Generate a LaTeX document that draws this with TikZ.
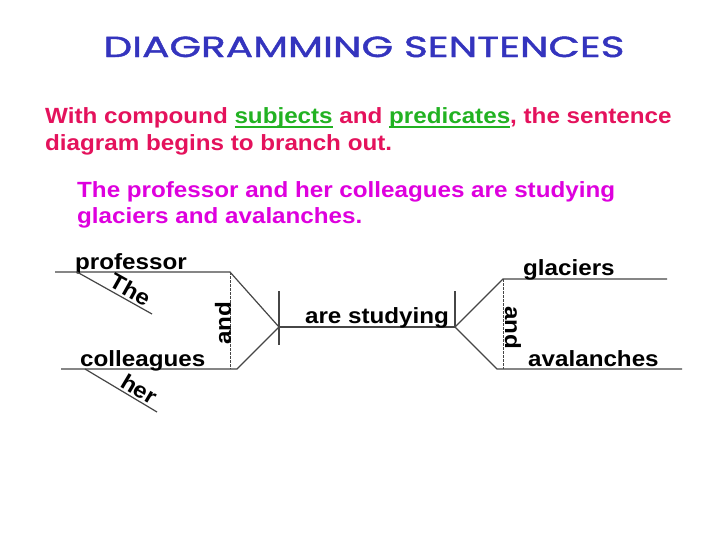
\documentclass[tikz,border=0pt]{standalone}
\usepackage{fontspec}
\setmainfont{Liberation Sans}[FakeStretch=1.1]
\newfontfamily\titlefont{Poppins}[FakeStretch=1.4,FakeBold=1.6]
\usetikzlibrary{positioning}
\definecolor{titleblue}{RGB}{52,52,190}
\definecolor{leadred}{RGB}{228,18,92}
\definecolor{keygreen}{RGB}{34,178,34}
\definecolor{examplepink}{RGB}{222,0,222}
\definecolor{linegray}{RGB}{70,70,70}
\newcommand{\keyword}[1]{\textcolor{keygreen}{\setbox0\hbox{#1}\rlap{\rule[-5pt]{\wd0}{1.6pt}}\box0}}

\begin{document}
\begin{tikzpicture}[x=1pt,y=-1pt,
	line/.style={linegray,line width=1.2pt},
	split/.style={linegray,line width=0.8pt,dashed,dash pattern=on 2.5pt off 1.5pt},
	word/.style={font=\fontsize{22}{24}\bfseries\selectfont,text=black,inner sep=0pt},
	slant/.style={word,sloped,above=2pt}]

	\useasboundingbox[fill=white] (0,0) rectangle (728,546);

	\node[font=\titlefont\fontsize{29}{32}\selectfont,text=titleblue,anchor=base] (title) at (364,57) {DIAGRAMMING SENTENCES};
	\node[word,text=leadred,anchor=base west] (lead1) at (45,123) {With compound \keyword{subjects} and \keyword{predicates}, the sentence};
	\node[word,text=leadred,anchor=base west] (lead2) at (45,150) {diagram begins to branch out.};
	\node[word,text=examplepink,anchor=base west] (sentence1) at (77,197) {The professor and her colleagues are studying};
	\node[word,text=examplepink,anchor=base west] (sentence2) at (77,223) {glaciers and avalanches.};

	% subjects
	\coordinate (prof1) at (55,272);
	\coordinate (prof2) at (230,272);
	\coordinate (coll1) at (61,369);
	\coordinate (coll2) at (237,369);
	\coordinate (fork) at (279,327);
	\draw[line] (prof1) -- (prof2) -- (fork);
	\draw[line] (coll1) -- (coll2) -- (fork);
	\draw[split] (prof2) -- (prof2 |- coll2);
	\node[word,anchor=base west] (professor) at (75,269) {professor};
	\node[word,anchor=base west] (colleagues) at (80,366) {colleagues};
	\node[word,rotate=90] (andsubj) at (223,323) {and};

	% modifiers
	\coordinate (the1) at (77,272);
	\coordinate (the2) at (152,314);
	\coordinate (her1) at (85,369);
	\coordinate (her2) at (157,412);
	\draw[line] (the1) -- node[slant,pos=0.64] (the) {The} (the2);
	\draw[line] (her1) -- node[slant,pos=0.68] (her) {her} (her2);

	% verb
	\coordinate (divtop) at (279,291);
	\coordinate (divbot) at (279,345);
	\coordinate (join) at (455,327);
	\coordinate (jointop) at (455,291);
	\draw[line] (divtop) -- (divbot);
	\draw[line] (fork) -- (join) -- (jointop);
	\node[word,anchor=base] (verb) at (377,323) {are studying};

	% objects
	\coordinate (glac1) at (503,279);
	\coordinate (glac2) at (667,279);
	\coordinate (aval1) at (497,369);
	\coordinate (aval2) at (682,369);
	\draw[line] (join) -- (glac1) -- (glac2);
	\draw[line] (join) -- (aval1) -- (aval2);
	\draw[split] (glac1) -- (glac1 |- aval1);
	\node[word,anchor=base west] (glaciers) at (523,275) {glaciers};
	\node[word,anchor=base west] (avalanches) at (528,366) {avalanches};
	\node[word,rotate=-90] (andobj) at (513,328) {and};

\end{tikzpicture}
\end{document}
